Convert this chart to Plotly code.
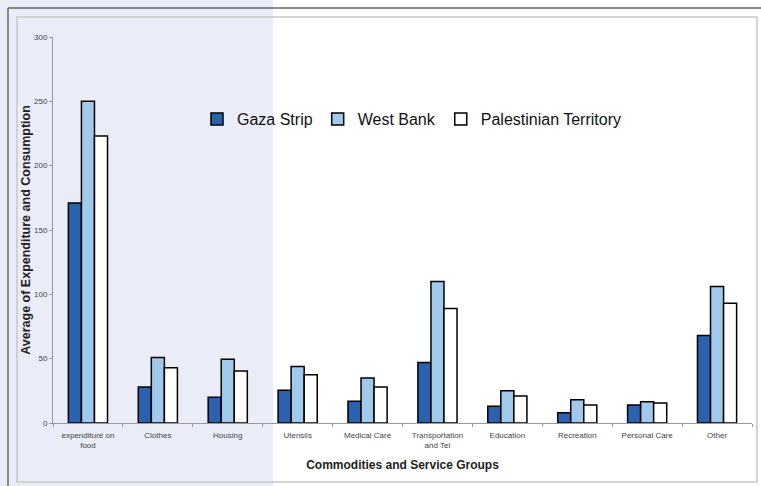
import plotly.graph_objects as go

categories = ["expenditure on<br>food", "Clothes", "Housing", "Utensils", "Medical Care",
              "Transportation<br>and Tel", "Education", "Recreation", "Personal Care", "Other"]
gaza = [171, 28, 20, 25.5, 17, 47, 13, 8, 14, 68]
west_bank = [250, 51, 49.5, 44, 35, 110, 25, 18, 16.5, 106]
palestinian = [223, 43, 40.5, 37.5, 28, 89, 21, 14, 15.5, 93]

W, H = 761, 486
L, R, T, B = 53, 9, 37, 63
pw, ph = W - L - R, H - T - B

def px(x):
    return (x - L) / pw

def py(y):
    return (H - B - y) / ph

fig = go.Figure()
line = dict(color="black", width=1.5)
fig.add_trace(go.Bar(name="Gaza Strip", x=categories, y=gaza, marker=dict(color="#2b62ad", line=line)))
fig.add_trace(go.Bar(name="West Bank", x=categories, y=west_bank, marker=dict(color="#a0c9ec", line=line)))
fig.add_trace(go.Bar(name="Palestinian Territory", x=categories, y=palestinian, marker=dict(color="white", line=line)))

shapes = [
    dict(type="rect", xref="paper", yref="paper", x0=px(0), x1=px(273), y0=py(H), y1=py(0),
         fillcolor="#eaedf7", line=dict(width=0), layer="below"),
    dict(type="line", xref="paper", yref="paper", x0=px(8), x1=px(W), y0=py(8), y1=py(8),
         line=dict(color="#666666", width=1.5)),
    dict(type="line", xref="paper", yref="paper", x0=px(8), x1=px(8), y0=py(8), y1=py(H),
         line=dict(color="#666666", width=1.5)),
    dict(type="rect", xref="paper", yref="paper", x0=px(17), x1=px(757), y0=py(482), y1=py(17),
         line=dict(color="#c8c8c8", width=1.5)),
]

fig.update_layout(
    width=W, height=H,
    margin=dict(l=L, r=R, t=T, b=B, autoexpand=False),
    paper_bgcolor="white", plot_bgcolor="rgba(0,0,0,0)",
    barmode="group", bargap=0.44, bargroupgap=0,
    font=dict(family="Liberation Sans, Arial, sans-serif", color="#333333"),
    shapes=shapes,
    showlegend=True,
    legend=dict(orientation="h", x=px(197), y=py(119), xanchor="left", yanchor="middle",
                font=dict(size=16, color="#111111"), bgcolor="rgba(0,0,0,0)",
                itemwidth=30, traceorder="normal"),
    xaxis=dict(
        automargin=False,
        showline=True, linecolor="#999999", linewidth=1,
        ticks="outside", ticklen=3, tickcolor="#999999", tickson="boundaries",
        ticklabelstandoff=4,
        tickfont=dict(size=8, color="#444444"),
        title=dict(text="<b>Commodities and Service Groups</b>", font=dict(size=12, color="#222222"), standoff=11),
        showgrid=False,
    ),
    yaxis=dict(
        automargin=False,
        range=[0, 300], dtick=50, showline=True, linecolor="#999999", linewidth=1,
        ticks="outside", ticklen=3, tickcolor="#999999",
        tickfont=dict(size=8, color="#444444"),
        title=dict(text="<b>Average of Expenditure and Consumption</b>", font=dict(size=12.5, color="#222222"), standoff=0),
        showgrid=False, zeroline=False,
    ),
)

fig.write_html("out.html", config={"displayModeBar": False},
               post_script="document.body.style.margin='0px';")
